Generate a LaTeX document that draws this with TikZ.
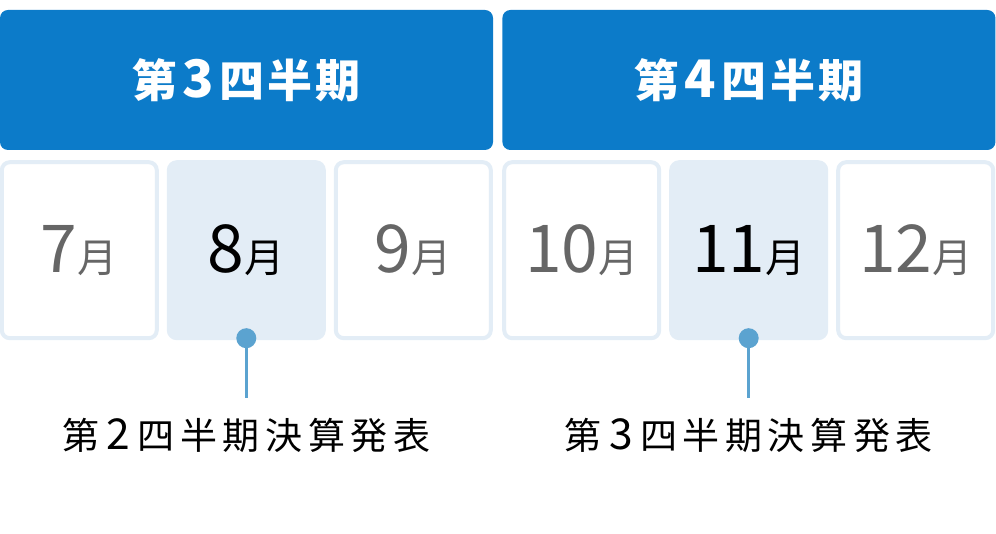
\documentclass[tikz,border=0pt]{standalone}
\usepackage{fontspec}
\setmainfont{Noto Sans CJK JP}
\newfontfamily\headfont[LetterSpace=7]{Noto Sans CJK JP}
\newfontfamily\notefont[LetterSpace=15]{Noto Sans CJK JP}
\usepackage{tikz}
\usetikzlibrary{positioning}
\definecolor{qblue}{HTML}{0C7BC9}
\definecolor{mline}{HTML}{E3EDF6}
\definecolor{pinblue}{HTML}{5BA3D0}
\definecolor{mgray}{HTML}{666666}
\newcommand{\monthtext}[1]{\fontsize{66}{66}\selectfont #1\fontsize{40}{40}\selectfont 月}
\newcommand{\bigdigit}[2][0.2em]{\hspace{#1}\scalebox{1.15}{#2}\hspace{#1}}

\begin{document}
\begin{tikzpicture}[
    x=1pt, y=-1pt,
    node distance=8pt,
    quarter/.style={fill=qblue, rounded corners=8pt, minimum width=493pt, minimum height=140pt, inner sep=0pt, text=white, font=\headfont\bfseries\fontsize{45}{50}\selectfont},
    month/.style={draw=mline, line width=4pt, fill=white, rounded corners=8pt, minimum width=155pt, minimum height=176pt, inner sep=0pt, text=mgray},
    now/.style={month, fill=mline, text=black},
    pin/.style={circle, fill=pinblue, inner sep=0pt, minimum size=20pt},
    stem/.style={draw=pinblue, line width=3pt},
    note/.style={font=\notefont\fontsize{37}{40}\selectfont, inner xsep=0pt, inner ysep=20pt},
]
\useasboundingbox (0,0) rectangle (996,534);

\node[quarter] (q3) at (246.5,80) {第\bigdigit[0.12em]{3}四半期};
\node[quarter, right=9pt of q3] (q4) {第\bigdigit[0.12em]{4}四半期};

\node[month, below=10pt of q3.south west, anchor=north west] (m7) {\monthtext{7}};
\node[now, right=of m7] (m8) {\monthtext{8}};
\node[month, right=of m8] (m9) {\monthtext{9}};
\node[month, below=10pt of q4.south west, anchor=north west] (m10) {\monthtext{10}};
\node[now, right=of m10] (m11) {\monthtext{11}};
\node[month, right=of m11] (m12) {\monthtext{12}};

\node[pin, yshift=2pt] (p8) at (m8.south) {};
\node[pin, yshift=2pt] (p11) at (m11.south) {};
\node[note, below=50pt of p8] (n8) {第\bigdigit{2}四半期決算発表};
\node[note, below=50pt of p11] (n11) {第\bigdigit{3}四半期決算発表};

\draw[stem] (p8) -- (n8);
\draw[stem] (p11) -- (n11);
\end{tikzpicture}
\end{document}
